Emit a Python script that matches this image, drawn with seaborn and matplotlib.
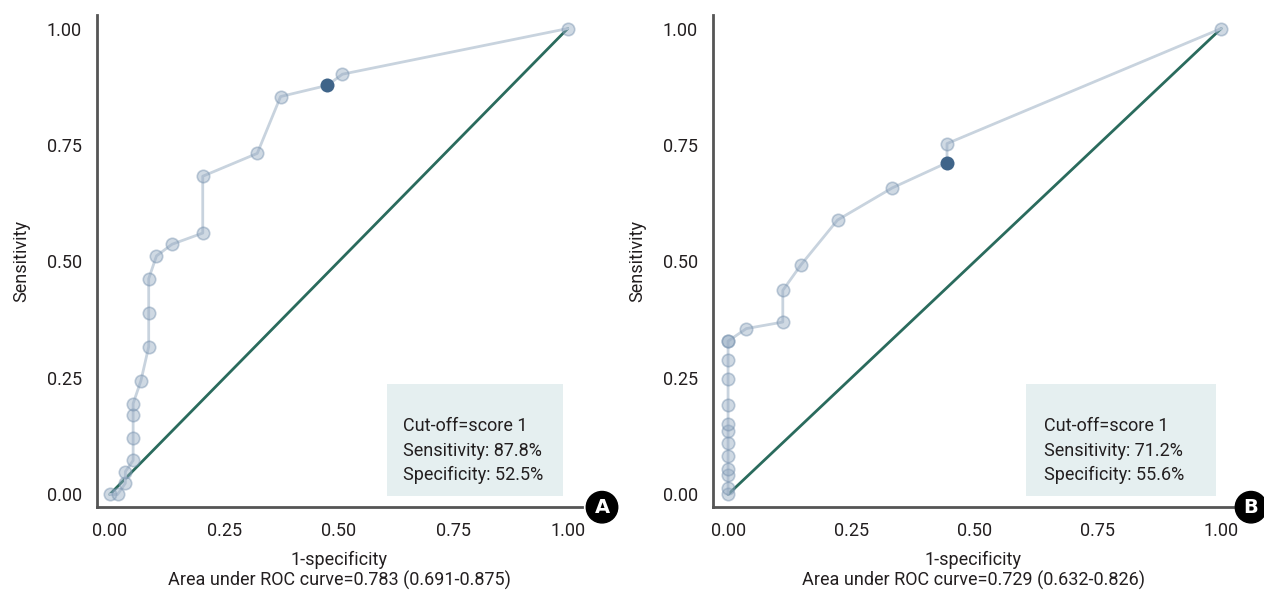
import matplotlib
matplotlib.use("Agg")
import matplotlib.pyplot as plt
import seaborn as sns
import pandas as pd

sns.set_theme(style="white")
plt.rcParams["font.family"] = ["Roboto", "DejaVu Sans"]
plt.rcParams["font.size"] = 13

# Panel A
fpr_a = [0.0, 0.017, 0.034, 0.034, 0.051, 0.051, 0.051, 0.051, 0.068, 0.085, 0.085,
         0.085, 0.102, 0.136, 0.203, 0.203, 0.322, 0.373, 0.475, 0.508, 1.0]
tpr_a = [0.0, 0.0, 0.024, 0.049, 0.073, 0.122, 0.171, 0.195, 0.244, 0.317, 0.390,
         0.463, 0.512, 0.537, 0.561, 0.683, 0.732, 0.854, 0.878, 0.902, 1.0]
cut_a = (0.475, 0.878)
box_a = ["Cut-off=score 1", "Sensitivity: 87.8%", "Specificity: 52.5%"]
auc_a = "Area under ROC curve=0.783 (0.691-0.875)"

# Panel B
fpr_b = [0.0, 0.0, 0.0, 0.0, 0.0, 0.0, 0.0, 0.0, 0.0, 0.0, 0.0, 0.0, 0.0, 0.037,
         0.111, 0.111, 0.148, 0.222, 0.333, 0.444, 0.444, 1.0]
tpr_b = [0.0, 0.014, 0.041, 0.055, 0.082, 0.110, 0.137, 0.151, 0.192, 0.247, 0.288,
         0.329, 0.329, 0.356, 0.370, 0.438, 0.493, 0.589, 0.658, 0.712, 0.753, 1.0]
cut_b = (0.444, 0.712)
box_b = ["Cut-off=score 1", "Sensitivity: 71.2%", "Specificity: 55.6%"]
auc_b = "Area under ROC curve=0.729 (0.632-0.826)"

ticks = [0.0, 0.25, 0.5, 0.75, 1.0]
tick_labels = ["0.00", "0.25", "0.50", "0.75", "1.00"]

line_col = "#c8d3de"
dot_col = "#95abc2"
dot_edge = "#7590ad"
cut_col = "#3f6489"
diag_col = "#2a6b5d"
box_col = "#e5eff0"
spine_col = "#555555"
txt_col = "#231f20"

fig = plt.figure(figsize=(12.64, 5.96), dpi=100)
ax_a = fig.add_axes([0.0767, 0.1493, 0.3837, 0.8255])
ax_b = fig.add_axes([0.5643, 0.1493, 0.4112, 0.8255])


def draw_panel(ax, fpr, tpr, cut, box_lines, auc_text, xlim, letter, letter_x):
    df = pd.DataFrame({"fpr": fpr, "tpr": tpr})
    # background info box
    ax.fill_between([0.605, 0.99], -0.004, 0.237, color=box_col, lw=0, zorder=0)
    ax.text(0.64, 0.094, "\n".join(box_lines), ha="left", va="center",
            fontsize=13, linespacing=1.45, color=txt_col, zorder=1)
    # diagonal reference
    sns.lineplot(x=[0, 1], y=[0, 1], ax=ax, color=diag_col, lw=2, zorder=2)
    sns.lineplot(data=df, x="fpr", y="tpr", ax=ax, sort=False, estimator=None,
                 color=line_col, lw=2, zorder=3)
    sns.scatterplot(data=df, x="fpr", y="tpr", ax=ax, s=80, color=dot_col,
                    edgecolor=dot_edge, linewidth=1.2, alpha=0.45, zorder=4)
    sns.scatterplot(x=[cut[0]], y=[cut[1]], ax=ax, s=80, color=cut_col,
                    edgecolor=cut_col, linewidth=1, zorder=5)

    ax.set_xlim(*xlim)
    ax.set_ylim(-0.027, 1.029)
    ax.set_xticks(ticks)
    ax.set_xticklabels(tick_labels)
    ax.set_yticks(ticks)
    ax.set_yticklabels(tick_labels)
    ax.tick_params(direction="in", length=8, width=1.3, color=spine_col,
                   labelsize=13, labelcolor=txt_col, pad=11)
    for side in ["top", "right"]:
        ax.spines[side].set_visible(False)
    for side in ["left", "bottom"]:
        ax.spines[side].set_color(spine_col)
        ax.spines[side].set_linewidth(2)
    ax.set_xlabel("1-specificity\n" + auc_text, fontsize=13, color=txt_col,
                  linespacing=1.1, labelpad=8)
    ax.set_ylabel("Sensitivity", fontsize=13, color=txt_col, labelpad=12)
    ax.grid(False)
    fig.text(letter_x, 0.149, letter, ha="center", va="center", fontsize=14,
             fontweight="bold", color="white", family="DejaVu Sans",
             bbox=dict(boxstyle="circle,pad=0.32", fc="black", ec="black"))


draw_panel(ax_a, fpr_a, tpr_a, cut_a, box_a, auc_a, (-0.028, 1.031), "A", 602 / 1264)
draw_panel(ax_b, fpr_b, tpr_b, cut_b, box_b, auc_b, (-0.030, 1.024), "B", 1251 / 1264)

fig.savefig("out.png", dpi=100)
